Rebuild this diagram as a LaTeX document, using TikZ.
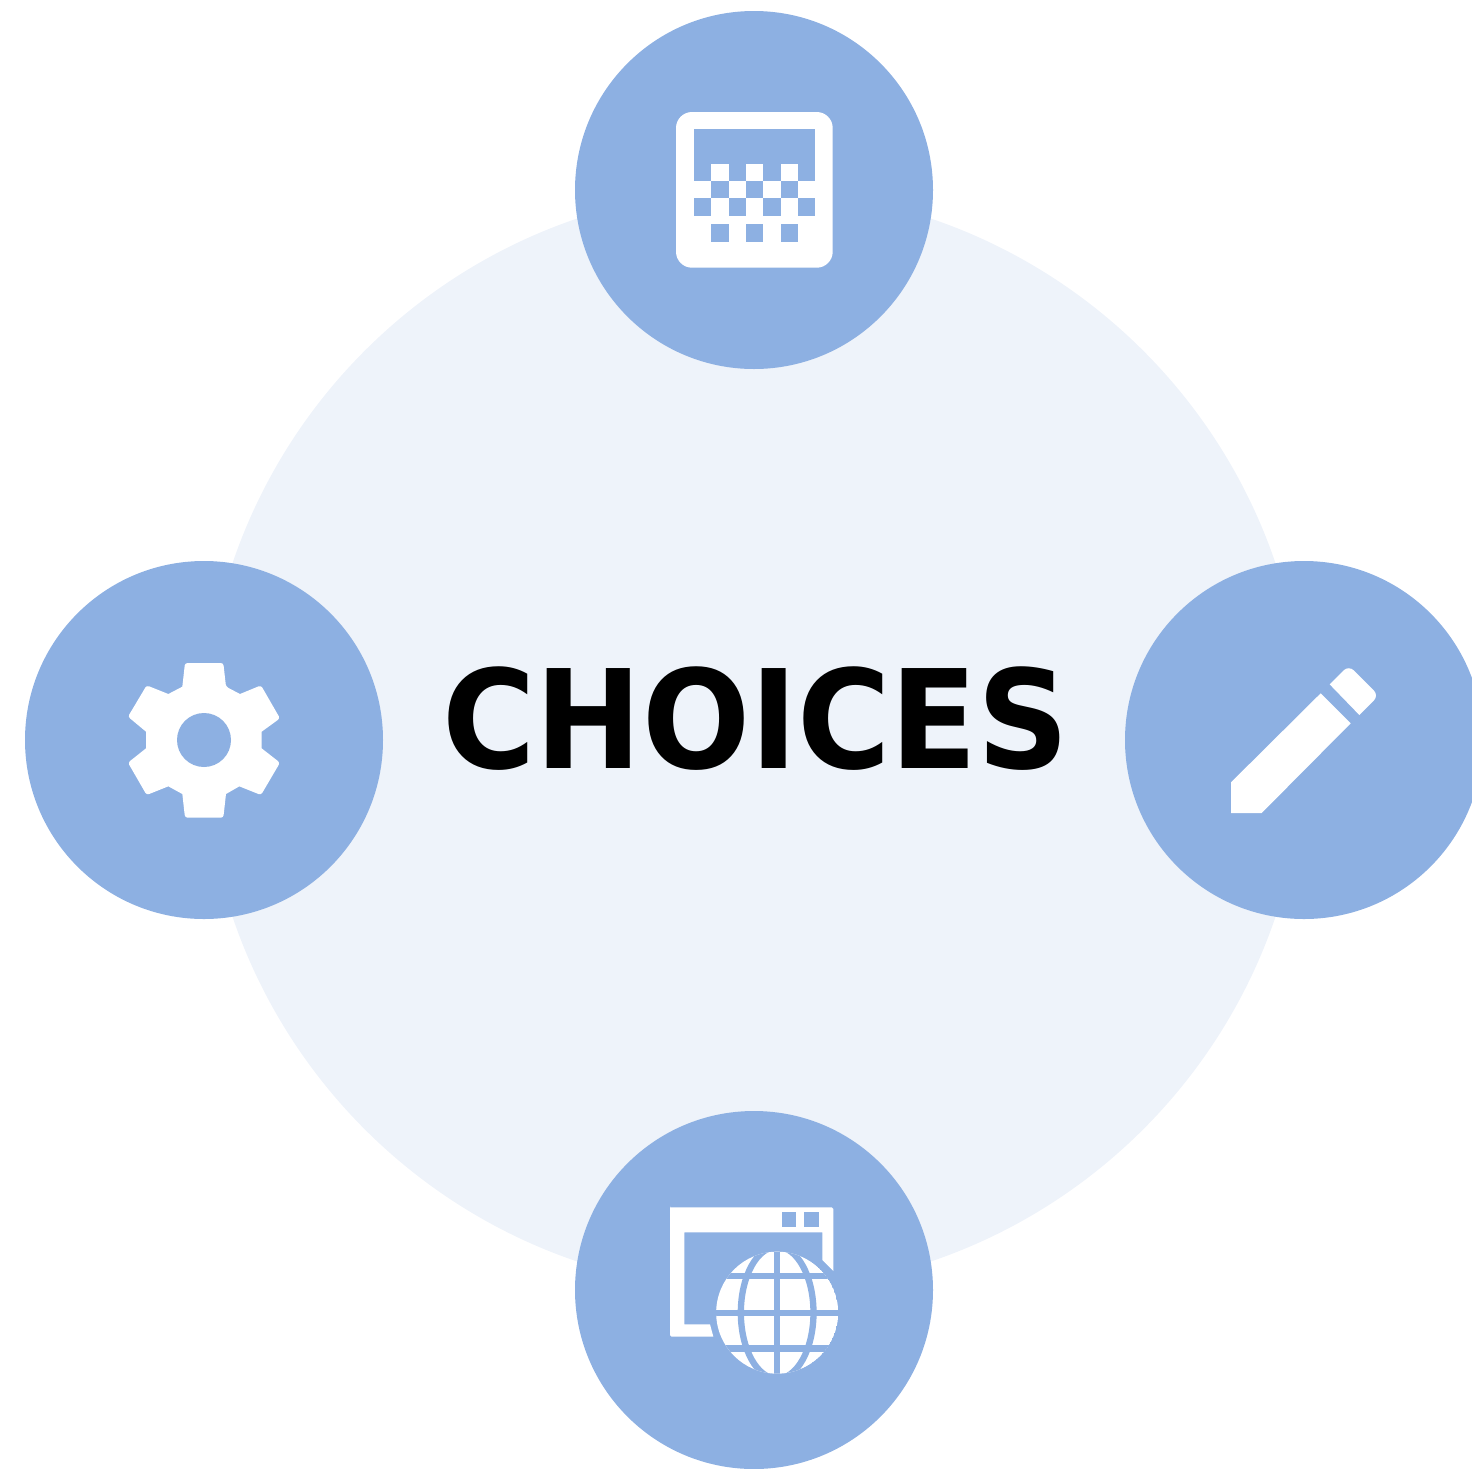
\documentclass[tikz,border=0pt]{standalone}
\usepackage{fontspec}
\setmainfont{DejaVu Sans}
\definecolor{hub}{HTML}{EEF3FA}
\definecolor{badge}{HTML}{8DB0E2}
\tikzset{
  hubdisc/.style={circle,fill=hub,draw=none,inner sep=0pt,minimum size=1101pt},
  badgedisc/.style={circle,fill=badge,draw=none,inner sep=0pt,minimum size=358pt},
  title/.style={font=\bfseries\fontsize{127.2pt}{127.2pt}\selectfont,text=black,inner sep=0pt,anchor=base},
  icon/.style={fill=white,draw=none},
  hole/.style={fill=badge,draw=none},
  zoomed/.style={x=0.33333pt,y=-0.33333pt}
}
\begin{document}
\begin{tikzpicture}[x=1pt,y=-1pt]
\useasboundingbox (0,0) rectangle (1472,1468);
\clip (0,0) rectangle (1472,1468);
\node[hubdisc] (hub) at (754,740) {};
\node[badgedisc] (top) at (754,190) {};
\node[badgedisc] (left) at (204,740) {};
\node[badgedisc] (right) at (1304,740) {};
\node[badgedisc] (bottom) at (754,1290) {};
\node[title] (label) at (755.8,768) {\scalebox{1}[1.078]{CHOICES}};
% calendar
\fill[icon,rounded corners=16pt] (676,112) rectangle (832.7,267.7);
\fill[hole] (694,129.3) rectangle (815.3,181);
\foreach \cx in {711.3,746,780.7} {
  \fill[icon] (\cx,164) rectangle +(17.33,17);
  \fill[hole] (\cx,181) rectangle +(17.33,17.33);
  \fill[hole] (\cx,224.3) rectangle +(17.33,17.6);
}
\foreach \cx in {694,728.7,763.3,798} {
  \fill[hole] (\cx,198.3) rectangle +(17.33,17.33);
}
% gear
\begin{scope}[shift={(115,650)},zoomed]
\fill[icon]
  (267,39) [rounded corners=2.5pt] -- (325,39) -- (333,110) [sharp corners]
  -- (375,132) [rounded corners=2.5pt] -- (438,106) -- (495,205) [sharp corners]
  -- (440,245) -- (440,295) [rounded corners=2.5pt] -- (495,338) -- (438,435) [sharp corners]
  -- (373,409) -- (333,432) [rounded corners=2.5pt] -- (325,503) -- (210,503) [sharp corners]
  -- (202,432) -- (160,409) [rounded corners=2.5pt] -- (95,435) -- (39,338) [sharp corners]
  -- (93,295) -- (93,245) [rounded corners=2.5pt] -- (39,200) -- (95,106) [sharp corners]
  -- (160,132) -- (202,110) [rounded corners=2.5pt] -- (210,39) -- cycle;
\fill[hole] (267,270) circle[radius=81];
\end{scope}
% pencil
\begin{scope}[shift={(1215,650)},zoomed]
\fill[icon] (48,397) -- (317,130) -- (407,220) -- (140,489) -- (48,489) -- cycle;
\fill[icon] (344,103) [rounded corners=7pt] -- (401,46) -- (491.5,136.5) [sharp corners] -- (433,195) -- cycle;
\end{scope}
% window with globe
\begin{scope}[shift={(655,1195)},zoomed]
\fill[icon]
  (45,37) [rounded corners=1.5pt] -- (535,37) [sharp corners] -- (535,228) -- (502,195) -- (502,112) -- (88,112)
  -- (88,388) -- (165,388) -- (175,425) [rounded corners=1.5pt] -- (45,425) -- (45,37) [sharp corners] -- cycle;
\fill[hole] (380,52) rectangle (423,96);
\fill[hole] (448,52) rectangle (492,96);
\begin{scope}
\clip (366.5,353) circle[radius=183];
\fill[icon] (366.5,353) circle[radius=183];
\draw[badge,line width=6.3pt] (183,353.5) -- (549,353.5);
\draw[badge,line width=6.3pt] (183,242.5) -- (549,242.5);
\draw[badge,line width=6.3pt] (183,460.5) -- (549,460.5);
\draw[badge,line width=6.3pt] (366.5,170) -- (366.5,536);
\draw[badge,line width=6.3pt] (366.5,353) ellipse[x radius=109,y radius=198];
\end{scope}
\end{scope}
\end{tikzpicture}
\end{document}
